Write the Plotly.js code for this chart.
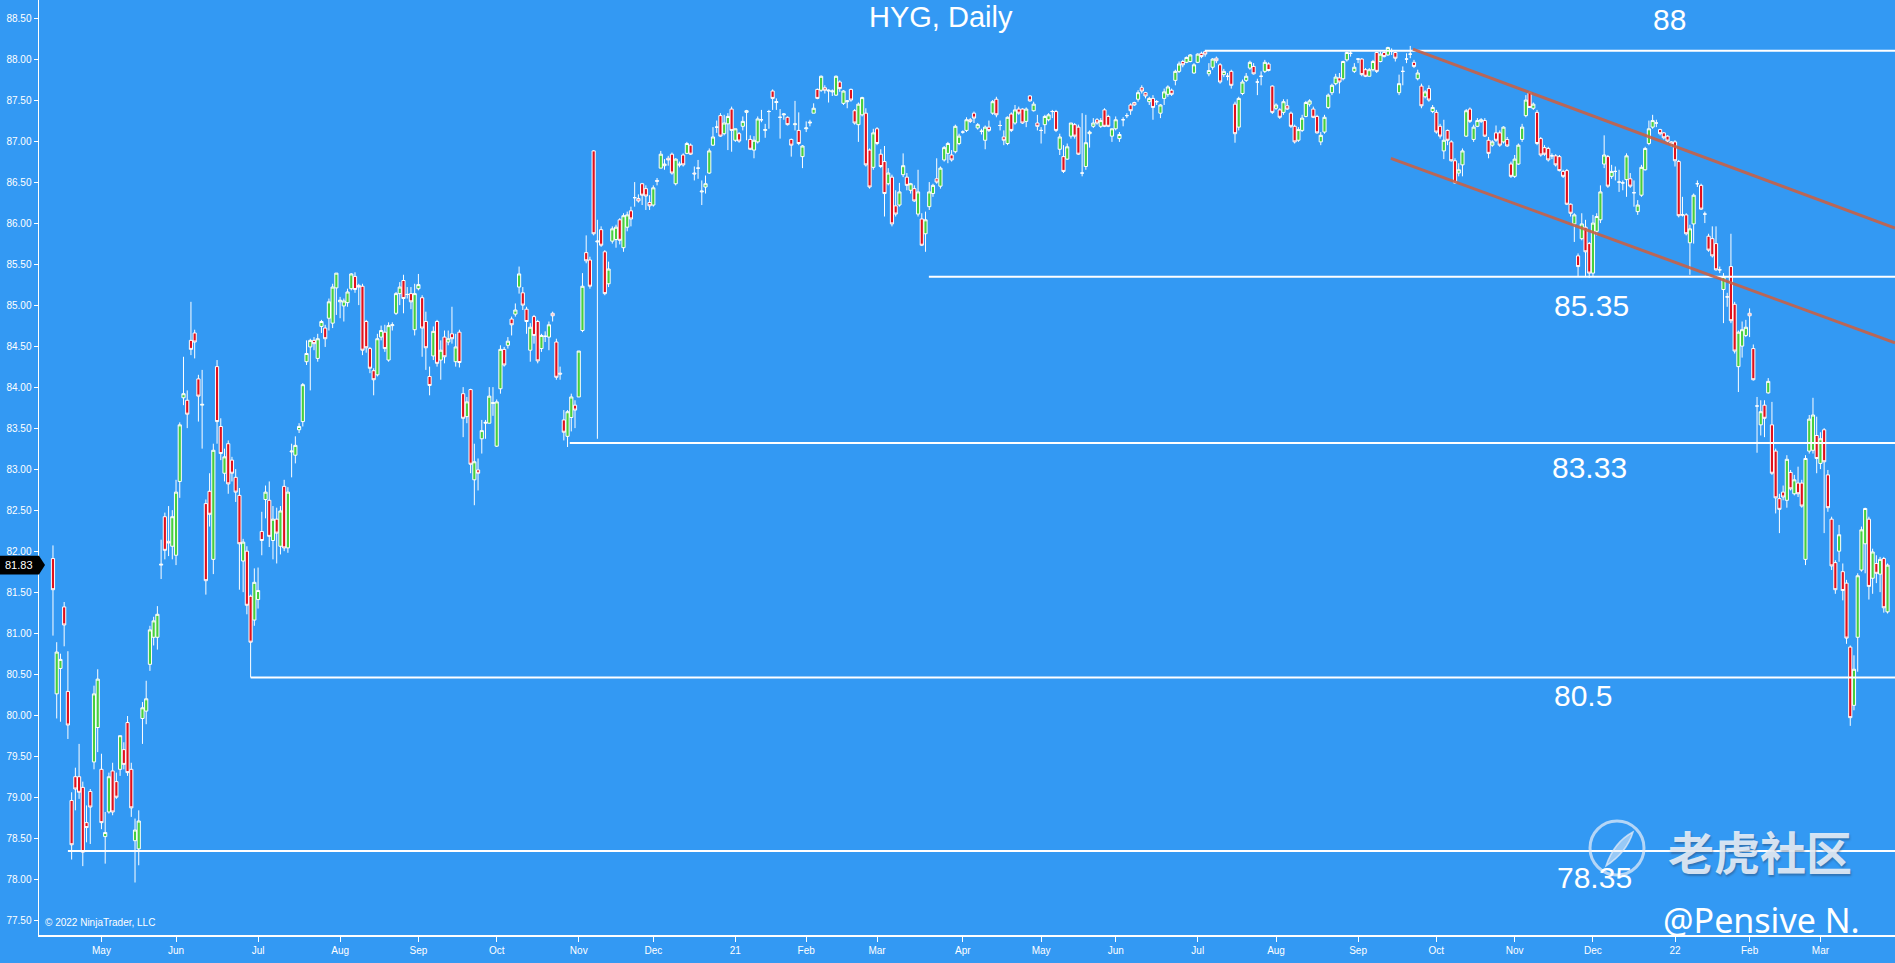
<!DOCTYPE html>
<html><head><meta charset="utf-8">
<script src="https://cdn.plot.ly/plotly-3.0.1.min.js"></script>
<style>html,body{margin:0;padding:0;background:#3399f3;overflow:hidden}#chart{width:1895px;height:963px}</style>
</head><body><div id="chart"></div>
<script>
// ---- data (HYG daily, bar index 0 = first bar) ----
const openP = [
81.91,80.26,80.57,81.32,80.29,78.96,79.25,79.25,79.12,78.69,
79.07,79.43,79.85,79.34,78.52,78.82,79.32,79.19,79.34,79.58,
79.91,79.34,78.47,78.37,79.96,80.05,80.62,80.95,80.95,81.83,
82.42,82.12,82.06,81.95,82.85,83.87,83.84,84.57,84.66,84.10,
83.78,82.58,82.73,81.90,84.25,83.52,82.95,83.31,83.11,82.90,
82.68,81.88,82.00,81.45,81.16,81.41,82.24,82.63,82.62,82.13,
82.39,82.06,82.79,82.04,83.21,83.17,83.48,83.58,84.31,84.49,
84.57,84.35,84.74,84.72,84.84,84.78,85.21,85.04,84.99,85.03,
85.20,85.35,85.24,85.23,84.80,84.47,84.20,84.15,84.61,84.67,
84.33,84.75,84.90,85.14,85.30,85.13,85.14,84.70,85.20,85.09,
84.80,84.13,84.38,84.80,84.33,84.61,84.55,84.65,84.31,84.67,
83.92,83.64,83.97,82.87,82.99,83.37,83.56,83.56,83.80,83.28,
83.98,84.46,84.51,84.83,84.89,85.22,85.15,84.95,84.45,84.86,
84.80,84.47,84.62,84.61,84.90,84.55,84.17,83.60,83.40,83.63,
83.78,83.88,84.69,85.64,85.55,86.88,85.77,85.92,85.65,85.26,
85.78,85.80,86.04,85.70,85.95,86.15,86.31,86.30,86.48,86.42,
86.25,86.22,86.52,86.67,86.70,86.79,86.84,86.48,86.72,86.83,
86.85,86.95,86.61,86.67,86.38,86.44,86.61,86.95,87.17,87.31,
87.09,87.21,87.39,87.01,87.09,87.18,87.35,87.02,86.89,86.99,
87.26,87.13,87.36,87.61,87.47,87.29,87.32,87.29,87.02,87.20,
87.13,86.81,87.15,87.22,87.34,87.63,87.62,87.65,87.61,87.60,
87.56,87.72,87.46,87.48,87.63,87.37,87.20,87.32,87.34,86.89,
86.68,87.15,86.84,86.75,86.48,86.56,86.21,86.22,86.59,86.56,
86.40,86.42,86.11,86.05,85.87,86.20,86.36,86.54,86.45,86.77,
86.85,86.83,86.87,86.97,87.11,87.13,87.26,87.34,87.16,87.12,
87.01,87.17,87.34,87.51,87.19,87.05,86.97,87.33,87.22,87.39,
87.39,87.24,87.55,87.37,87.22,87.13,87.20,87.26,87.36,87.36,
86.90,86.81,86.78,87.06,87.20,87.17,86.61,86.69,87.09,87.18,
87.26,87.18,87.38,87.30,87.06,87.15,87.03,87.26,87.31,87.44,
87.47,87.51,87.65,87.59,87.48,87.52,87.48,87.34,87.52,87.57,
87.62,87.74,87.85,87.97,87.96,87.97,87.83,87.96,88.07,88.09,
87.82,87.90,88.01,87.93,87.81,87.79,87.85,87.45,87.17,87.58,
87.74,87.89,87.91,87.72,87.79,87.85,87.94,87.67,87.40,87.38,
87.35,87.43,87.34,87.18,87.01,87.13,87.30,87.45,87.39,87.30,
86.99,87.11,87.41,87.59,87.70,87.77,87.76,87.99,88.07,87.85,
88.00,88.00,87.87,87.79,87.87,88.08,87.97,88.08,88.05,88.10,
88.08,87.59,87.85,88.00,88.06,87.96,87.76,87.67,87.54,87.64,
87.36,87.35,87.18,86.88,87.13,86.99,86.76,86.61,86.71,87.06,
87.39,87.02,87.18,87.24,87.25,87.01,86.95,87.10,87.10,86.99,
87.02,86.72,86.57,86.72,87.02,87.31,87.59,87.40,87.35,87.03,
86.92,86.91,86.82,86.82,86.81,86.63,86.64,86.23,85.99,85.60,
85.81,85.95,85.75,85.39,85.90,86.04,86.72,86.81,86.57,86.63,
86.50,86.49,86.53,86.54,86.37,86.14,86.34,86.65,86.97,87.17,
87.22,87.14,87.10,87.06,86.99,86.99,86.75,86.10,86.10,85.76,
85.99,86.48,86.46,86.11,85.84,85.81,85.75,85.43,85.19,85.10,
85.47,85.01,84.25,84.50,84.63,84.90,84.47,83.77,83.54,83.78,
83.93,83.54,83.22,82.64,82.72,82.62,82.96,82.70,82.83,82.83,
81.90,83.22,83.23,83.41,83.07,83.48,82.93,82.39,81.86,82.00,
81.75,81.61,80.83,80.12,80.95,81.77,82.09,82.39,81.67,81.85,
81.72,81.91,81.26];
const highP = [
82.07,80.89,80.75,81.38,80.78,79.06,79.36,79.65,79.19,78.90,
79.10,80.36,80.56,79.53,78.82,79.30,79.42,79.30,79.75,79.67,
79.99,79.42,78.74,78.84,80.16,80.42,81.09,81.20,81.33,82.14,
82.47,82.55,82.50,82.87,83.57,84.37,83.96,85.04,84.70,84.15,
84.21,82.63,82.95,83.31,84.33,83.62,83.25,83.35,83.15,83.00,
82.77,82.15,82.06,81.47,81.79,81.80,82.48,82.80,82.85,82.55,
82.53,82.55,82.87,82.78,83.31,83.40,83.56,84.05,84.57,84.59,
84.61,84.65,84.82,84.76,85.08,85.26,85.39,85.10,85.08,85.20,
85.39,85.40,85.26,85.26,84.82,84.49,84.23,84.65,84.75,84.76,
84.79,84.79,85.16,85.28,85.37,85.22,85.22,85.26,85.38,85.12,
84.92,84.25,84.74,84.82,84.57,84.69,84.69,84.98,84.65,84.70,
84.00,83.88,83.98,83.31,83.13,83.60,83.60,84.00,84.00,83.85,
84.51,84.49,84.61,84.86,85.02,85.47,85.22,84.98,84.78,84.88,
84.82,84.65,84.68,84.80,84.92,84.59,84.25,83.72,83.72,83.92,
83.84,84.44,85.39,85.85,85.59,86.89,86.04,85.96,85.67,85.53,
85.96,85.98,86.06,86.12,86.14,86.20,86.50,86.35,86.49,86.46,
86.34,86.46,86.55,86.88,86.78,86.82,86.86,86.79,86.75,86.85,
86.99,86.97,86.69,86.77,86.52,86.58,86.91,87.17,87.25,87.34,
87.32,87.34,87.42,87.15,87.11,87.30,87.38,87.07,87.06,87.30,
87.38,87.21,87.38,87.63,87.52,87.39,87.34,87.30,87.03,87.49,
87.35,86.95,87.24,87.26,87.46,87.64,87.80,87.68,87.63,87.63,
87.80,87.74,87.62,87.50,87.64,87.39,87.47,87.54,87.40,86.91,
87.15,87.17,86.90,86.94,86.67,86.59,86.40,86.49,86.85,86.61,
86.49,86.46,86.65,86.12,86.14,86.50,86.48,86.79,86.69,86.94,
86.99,86.89,87.20,87.09,87.13,87.29,87.28,87.36,87.22,87.15,
87.19,87.25,87.50,87.54,87.25,87.13,87.30,87.35,87.44,87.42,
87.40,87.41,87.56,87.48,87.32,87.17,87.32,87.34,87.38,87.38,
87.09,86.95,86.97,87.22,87.22,87.20,87.34,87.32,87.13,87.28,
87.28,87.28,87.40,87.32,87.15,87.30,87.11,87.29,87.34,87.46,
87.48,87.62,87.68,87.60,87.54,87.56,87.50,87.45,87.64,87.68,
87.64,87.87,87.97,87.99,88.03,88.06,87.95,88.07,88.09,88.10,
87.95,88.01,88.03,87.95,87.88,87.83,87.87,87.48,87.54,87.75,
87.83,87.98,87.95,87.76,87.85,87.99,87.96,87.68,87.46,87.40,
87.51,87.51,87.36,87.20,87.17,87.32,87.49,87.51,87.42,87.32,
87.11,87.32,87.58,87.70,87.82,87.83,87.98,88.09,88.10,87.95,
88.01,88.01,87.89,87.89,87.99,88.09,88.09,88.11,88.15,88.13,
88.09,87.81,87.91,88.07,88.16,87.99,87.87,87.70,87.62,87.68,
87.44,87.38,87.21,87.26,87.14,87.01,86.79,86.73,86.91,87.39,
87.41,87.20,87.28,87.28,87.28,87.05,87.01,87.19,87.13,87.18,
87.05,86.75,86.83,86.97,87.21,87.56,87.61,87.47,87.38,87.05,
86.95,86.93,86.85,86.84,86.83,86.65,86.66,86.24,86.12,85.63,
86.12,86.04,85.77,86.10,86.12,86.46,87.07,86.83,86.71,86.69,
86.65,86.52,86.85,86.61,86.52,86.28,86.71,86.93,87.25,87.32,
87.26,87.15,87.11,87.07,87.00,87.01,86.77,86.32,86.12,85.98,
86.36,86.52,86.48,86.14,85.87,85.96,85.96,85.47,85.39,85.15,
85.87,85.04,84.69,84.80,84.82,84.96,84.52,83.88,83.84,83.84,
84.11,83.82,83.25,82.70,82.80,83.17,82.99,82.93,83.03,82.87,
83.17,83.66,83.87,83.64,83.45,83.50,82.99,82.42,81.89,82.32,
81.85,81.65,80.85,80.73,81.73,82.30,82.53,82.42,82.03,81.95,
81.93,81.93,81.85];
const lowP = [
80.97,79.96,79.92,80.84,79.71,78.24,78.84,78.98,78.16,78.45,
78.43,79.34,79.55,78.61,78.19,78.80,78.78,78.98,79.26,79.34,
79.26,78.76,77.96,78.17,79.65,79.89,80.54,80.85,80.80,81.66,
81.90,81.94,81.90,81.83,82.65,83.78,83.50,84.39,84.35,83.58,
83.25,81.47,82.30,81.72,83.31,83.11,82.85,82.70,82.85,82.60,
81.53,81.50,81.23,80.46,81.09,81.30,81.95,82.40,82.05,81.90,
81.85,81.96,82.00,81.98,82.90,83.07,83.44,83.52,84.27,83.96,
84.45,84.31,84.66,84.49,84.69,84.72,84.88,84.84,84.80,84.98,
85.18,85.15,85.00,84.39,84.42,84.17,83.90,84.13,84.57,84.43,
84.31,84.69,84.88,85.00,84.90,85.08,84.95,84.63,85.18,84.37,
84.21,83.90,84.33,84.25,84.09,84.29,84.51,84.53,84.25,84.24,
83.39,83.56,82.95,82.56,82.74,83.19,83.37,83.56,83.65,83.27,
83.92,84.25,84.47,84.63,84.86,85.14,84.94,84.65,84.31,84.53,
84.29,84.43,84.55,84.45,84.80,84.09,84.09,83.35,83.27,83.46,
83.50,83.88,84.67,85.51,85.20,85.85,83.37,85.71,85.12,85.22,
85.75,85.70,85.74,85.65,85.90,85.96,86.20,86.25,86.22,86.16,
86.16,86.20,86.46,86.67,86.65,86.70,86.59,86.46,86.68,86.69,
86.84,86.83,86.52,86.54,86.22,86.36,86.60,86.94,87.10,87.05,
87.07,86.89,86.87,86.99,86.98,87.13,87.01,86.89,86.79,86.97,
87.23,87.04,87.15,87.38,87.38,87.03,87.26,87.19,86.81,87.13,
86.95,86.67,87.11,87.18,87.34,87.51,87.60,87.58,87.47,87.55,
87.55,87.60,87.44,87.40,87.48,87.20,86.99,87.30,86.69,86.42,
86.65,86.95,86.67,86.08,86.46,85.96,86.08,86.20,86.56,86.40,
86.36,86.26,86.08,85.72,85.65,86.16,86.32,86.48,86.42,86.75,
86.73,86.75,86.85,86.95,87.09,87.11,87.22,87.22,87.14,87.08,
86.90,87.11,87.32,87.29,87.13,86.95,86.95,87.11,87.20,87.32,
87.21,87.17,87.48,87.36,87.13,86.97,87.09,87.24,87.28,87.11,
86.83,86.61,86.77,87.03,87.03,86.83,86.57,86.65,86.92,87.16,
87.20,87.16,87.17,87.17,86.99,87.13,86.99,87.18,87.28,87.32,
87.43,87.48,87.58,87.52,87.44,87.26,87.44,87.28,87.44,87.54,
87.55,87.68,87.83,87.90,87.95,87.96,87.82,87.95,88.01,88.03,
87.79,87.87,87.95,87.70,87.78,87.74,87.64,86.98,87.13,87.56,
87.72,87.87,87.81,87.56,87.68,87.83,87.85,87.33,87.38,87.27,
87.32,87.38,87.16,86.97,86.99,87.11,87.29,87.42,87.28,87.09,
86.95,87.09,87.39,87.56,87.68,87.58,87.74,87.97,88.03,87.83,
87.95,87.79,87.78,87.79,87.85,87.83,87.96,88.02,88.04,88.05,
87.97,87.56,87.68,87.95,88.01,87.89,87.74,87.40,87.52,87.48,
87.34,87.09,87.03,86.78,86.95,86.75,86.48,86.57,86.57,87.05,
87.22,86.99,87.17,87.22,87.05,86.79,86.93,86.99,86.93,86.97,
86.93,86.55,86.55,86.71,86.99,87.29,87.41,87.38,86.95,86.81,
86.82,86.75,86.78,86.69,86.63,86.55,86.22,86.08,85.77,85.35,
85.79,85.35,85.33,85.35,85.85,86.00,86.67,86.43,86.54,86.52,
86.38,86.40,86.32,86.43,86.20,86.10,86.32,86.64,86.95,87.15,
87.17,87.07,87.02,86.98,86.93,86.69,86.07,86.08,85.85,85.37,
85.75,86.44,86.16,86.00,85.65,85.58,85.42,85.39,84.78,84.98,
84.78,84.41,83.94,84.36,84.61,84.61,84.08,83.20,83.41,83.39,
83.92,82.93,82.46,82.22,82.62,82.53,82.74,82.68,82.66,82.53,
81.83,83.19,83.19,82.95,83.00,82.22,82.48,81.77,81.48,81.87,
81.40,80.87,79.87,80.06,80.53,81.75,81.73,81.41,81.48,81.61,
81.50,81.25,81.24];
const closeP = [
81.53,80.77,80.68,81.10,79.88,78.42,79.10,79.06,78.33,78.63,
78.88,80.26,80.44,78.69,78.57,79.25,78.82,79.00,79.75,79.40,
79.30,78.87,78.60,78.71,80.09,80.20,81.04,81.15,81.23,81.84,
82.01,82.10,82.42,82.72,83.54,83.92,83.67,84.46,84.55,83.89,
83.79,81.64,82.45,83.23,83.58,83.19,83.15,82.82,82.95,82.72,
82.09,82.11,81.34,80.89,81.62,81.52,82.13,82.72,82.18,82.39,
82.22,82.49,82.04,82.72,83.22,83.29,83.52,84.03,84.41,84.57,
84.53,84.59,84.80,84.59,85.04,85.22,85.39,85.06,85.05,85.16,
85.38,85.19,85.22,84.45,84.48,84.23,84.09,84.59,84.69,84.47,
84.75,84.76,85.14,85.22,85.08,85.13,85.04,85.14,85.25,84.72,
84.48,84.02,84.68,84.29,84.45,84.37,84.59,84.59,84.49,84.30,
83.62,83.82,83.06,83.09,82.95,83.47,83.57,83.89,83.81,83.82,
84.46,84.27,84.56,84.76,84.94,85.38,85.00,84.80,84.73,84.63,
84.32,84.63,84.62,84.76,84.87,84.12,84.16,83.45,83.70,83.88,
83.72,84.44,85.23,85.54,85.23,85.87,85.78,85.73,85.14,85.44,
85.93,85.95,85.79,86.09,86.10,86.05,86.31,86.27,86.34,86.33,
86.21,86.43,86.51,86.84,86.72,86.77,86.61,86.78,86.71,86.71,
86.97,86.84,86.60,86.67,86.39,86.48,86.88,87.05,87.17,87.06,
87.22,87.30,87.13,87.15,87.00,87.24,87.37,86.90,87.01,87.27,
87.26,87.14,87.36,87.52,87.48,87.29,87.33,87.20,86.95,87.21,
86.97,86.94,87.16,87.23,87.40,87.52,87.79,87.62,87.62,87.61,
87.79,87.64,87.61,87.49,87.50,87.22,87.45,87.53,86.71,86.44,
87.10,86.97,86.69,86.36,86.61,85.99,86.11,86.38,86.70,86.46,
86.48,86.27,86.38,85.73,86.04,86.38,86.46,86.50,86.67,86.92,
86.97,86.77,87.18,87.06,87.11,87.26,87.24,87.28,87.20,87.12,
87.17,87.13,87.48,87.32,87.19,87.01,87.29,87.13,87.38,87.34,
87.22,87.39,87.49,87.45,87.18,87.13,87.30,87.32,87.36,87.13,
87.05,86.63,86.93,87.22,87.06,86.84,86.61,86.98,87.11,87.22,
87.22,87.25,87.18,87.18,87.15,87.26,87.08,87.26,87.31,87.37,
87.44,87.59,87.61,87.55,87.52,87.41,87.48,87.44,87.60,87.66,
87.57,87.85,87.94,87.93,88.02,88.05,87.93,88.06,88.03,88.06,
87.86,88.00,87.98,87.72,87.85,87.79,87.68,87.09,87.52,87.72,
87.79,87.96,87.82,87.72,87.79,87.96,87.86,87.35,87.44,87.29,
87.48,87.39,87.18,86.99,87.14,87.28,87.47,87.49,87.29,87.10,
87.07,87.29,87.56,87.68,87.78,87.72,87.97,88.08,88.07,87.90,
88.00,87.81,87.79,87.87,87.97,87.85,88.06,88.03,88.14,88.10,
88.01,87.70,87.85,88.00,88.06,87.91,87.83,87.43,87.60,87.50,
87.41,87.11,87.06,87.01,87.01,86.76,86.49,86.65,86.88,87.37,
87.24,87.17,87.25,87.26,87.06,86.85,86.99,87.01,86.95,87.17,
86.94,86.57,86.78,86.95,87.17,87.50,87.41,87.45,86.97,86.83,
86.84,86.77,86.82,86.71,86.64,86.57,86.23,86.12,86.10,85.47,
85.99,85.65,85.39,86.00,86.08,86.38,86.83,86.45,86.63,86.63,
86.50,86.49,86.82,86.45,86.37,86.22,86.68,86.91,87.15,87.25,
87.22,87.09,87.04,87.00,86.97,86.76,86.09,86.10,85.87,85.93,
86.34,86.48,86.17,86.11,85.67,85.60,85.43,85.43,85.35,85.10,
84.81,84.44,84.67,84.70,84.73,84.87,84.09,83.77,83.70,83.62,
84.07,82.95,82.65,82.51,82.66,83.12,82.76,82.87,82.70,82.55,
83.13,83.61,83.66,83.13,83.37,83.09,82.53,81.82,81.53,82.20,
81.52,80.94,79.97,80.56,81.70,82.26,82.52,81.57,81.99,81.73,
81.90,81.31,81.83];

// month tick labels and the bar index of each month's first session
const tickLabels = ['May','Jun','Jul','Aug','Sep','Oct','Nov','Dec','21','Feb','Mar','Apr',
                    'May','Jun','Jul','Aug','Sep','Oct','Nov','Dec','22','Feb','Mar'];
const tickBars = [13,33,55,77,98,119,141,161,183,202,221,244,265,285,307,328,350,371,392,413,435,455,474];

// horizontal support / resistance levels drawn on the chart
const levelPrice = [88.10, 85.345, 83.32, 80.46, 78.345];
const levelStartBar = [308.9, 234.9, 138.6, 53.0, 4.0];
const levelText = ['88', '85.35', '83.33', '80.5', '78.35'];
const levelTextBar = [433.6, 412.7, 412.2, 410.3, 413.5];
const levelTextPrice = [88.48, 84.99, 83.02, 80.24, 78.02];

// descending channel (two parallel trend lines)
const chanX0 = [364.7, 358.8], chanY0 = [88.12, 86.79];
const chanX1 = [494.0, 494.0], chanY1 = [85.94, 84.54];

// ---- drawing ----
const W = 1895, H = 963, ML = 39, MB = 28;
const plotW = W - ML, plotH = H - MB;
const px = x => (x - ML) / plotW;
const py = y => 1 - y / plotH;
const BG = '#3399f3';
const FONT = 'Arial, "Liberation Sans", sans-serif';
const xRange = [-3.75, 494.0];
const yRange = [77.32, 88.72];
const bars = openP.map((_, i) => i);

const trace = {
  type: 'candlestick',
  x: bars, open: openP, high: highP, low: lowP, close: closeP,
  increasing: {line: {color: '#ffffff', width: 1}, fillcolor: '#46cf3e'},
  decreasing: {line: {color: '#ffffff', width: 1}, fillcolor: '#e0101c'},
  whiskerwidth: 0,
  hoverinfo: 'skip'
};

const shapes = [];
levelPrice.forEach((p, k) => shapes.push({
  type: 'line', xref: 'x', yref: 'y', x0: levelStartBar[k], x1: xRange[1], y0: p, y1: p,
  line: {color: '#ffffff', width: 2}, layer: 'above'
}));
for (let k = 0; k < 2; k++) shapes.push({
  type: 'line', xref: 'x', yref: 'y', x0: chanX0[k], y0: chanY0[k], x1: chanX1[k], y1: chanY1[k],
  line: {color: 'rgba(200,96,70,0.9)', width: 3}, layer: 'above'
});
// last price marker on the price axis
const last = closeP[closeP.length - 1];
const hh = 0.115;
shapes.push({
  type: 'path', xref: 'paper', yref: 'y', layer: 'above',
  path: `M ${px(0)},${last + hh} L ${px(39)},${last + hh} L ${px(45)},${last} L ${px(39)},${last - hh} L ${px(0)},${last - hh} Z`,
  fillcolor: '#000000', line: {color: '#000000', width: 0}
});
// watermark logo ring
shapes.push({
  type: 'circle', xref: 'paper', yref: 'paper', layer: 'above',
  x0: px(1590), x1: px(1644), y0: py(875), y1: py(821),
  line: {color: 'rgba(235,240,248,0.7)', width: 3}
});
shapes.push({
  type: 'path', xref: 'paper', yref: 'paper', layer: 'above',
  path: `M ${px(1606)},${py(866)} Q ${px(1614)},${py(842)} ${px(1633)},${py(832)} Q ${px(1627)},${py(852)} ${px(1606)},${py(866)} Z`,
  fillcolor: 'rgba(235,240,248,0.55)', line: {color: 'rgba(235,240,248,0.7)', width: 1.5}
});

const annotations = [
  {xref: 'paper', yref: 'paper', x: px(941), y: py(17), text: 'HYG, Daily', showarrow: false,
   xanchor: 'center', yanchor: 'middle', font: {family: FONT, size: 29, color: '#ffffff'}},
  {xref: 'paper', yref: 'y', x: px(19), y: last, text: last.toFixed(2), showarrow: false,
   xanchor: 'center', yanchor: 'middle', font: {family: FONT, size: 11, color: '#ffffff'}},
  {xref: 'paper', yref: 'paper', x: px(43), y: py(922), text: '© 2022 NinjaTrader, LLC', showarrow: false,
   xanchor: 'left', yanchor: 'middle', font: {family: FONT, size: 10, color: '#ffffff'}},
  {xref: 'paper', yref: 'paper', x: px(1760), y: py(850), text: '老虎社区', showarrow: false,
   xanchor: 'center', yanchor: 'middle',
   font: {family: '"Noto Sans CJK SC", sans-serif', size: 46, color: 'rgba(236,241,248,0.88)', weight: 700,
          shadow: '1px 2px 2px rgba(40,60,90,0.45)'}},
  {xref: 'paper', yref: 'paper', x: px(1761), y: py(920), text: '@Pensive N.', showarrow: false,
   xanchor: 'center', yanchor: 'middle', font: {family: '"Noto Sans", "Open Sans", sans-serif', size: 34, color: '#ffffff'}}
];
levelText.forEach((t, k) => annotations.push({
  xref: 'x', yref: 'y', x: levelTextBar[k], y: levelTextPrice[k], text: t, showarrow: false,
  xanchor: 'center', yanchor: 'middle', font: {family: FONT, size: 30, color: '#ffffff'}
}));

const layout = {
  width: W, height: H,
  margin: {l: ML, r: 0, t: 0, b: MB, pad: 0},
  paper_bgcolor: BG, plot_bgcolor: BG,
  showlegend: false,
  boxgap: 0.15,
  boxgroupgap: 0,
  xaxis: {
    type: 'linear', range: xRange, rangeslider: {visible: false},
    tickmode: 'array', tickvals: tickBars, ticktext: tickLabels,
    ticks: 'outside', ticklen: 5, tickwidth: 1, tickcolor: '#ffffff',
    showline: true, linecolor: '#ffffff', linewidth: 1.5,
    showgrid: false, zeroline: false,
    tickfont: {family: FONT, size: 10, color: '#ffffff'}
  },
  yaxis: {
    range: yRange, tick0: 77.5, dtick: 0.5, tickformat: '.2f',
    ticks: 'outside', ticklen: 4, tickwidth: 1, tickcolor: '#ffffff',
    showline: true, linecolor: '#ffffff', linewidth: 1.5,
    showgrid: false, zeroline: false,
    tickfont: {family: FONT, size: 10, color: '#ffffff'}
  },
  shapes: shapes,
  annotations: annotations
};

Plotly.newPlot('chart', [trace], layout, {staticPlot: true, displayModeBar: false});
</script>
</body></html>
